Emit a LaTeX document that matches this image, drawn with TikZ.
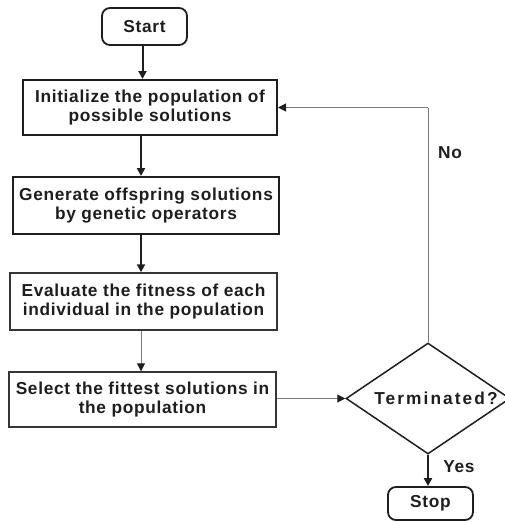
\documentclass[tikz,border=0pt]{standalone}
\usepackage{fontspec}
\setmainfont{Liberation Sans}
\newfontfamily\diafont{Liberation Sans}[LetterSpace=4]
\newfontfamily\diafontwide{Liberation Sans}[LetterSpace=12]
\usetikzlibrary{shapes.geometric,arrows.meta}
\definecolor{ink}{HTML}{1E1E1E}
\definecolor{thin}{HTML}{7A7A7A}
\begin{document}
\begin{tikzpicture}[x=1pt,y=-1pt,
  txt/.style={font=\diafont\bfseries\fontsize{17.3}{18.5}\selectfont, text=ink, align=center, inner sep=0pt},
  boldbox/.style={txt, draw=ink, line width=2pt},
  thinbox/.style={txt, draw=ink!90, line width=1.4pt},
  termbox/.style={txt, draw=ink, line width=1.8pt, rounded corners=8pt},
  thickarrow/.style={draw=ink, line width=2pt, -{Triangle[length=8pt,width=8pt]}},
  thinarrow/.style={draw=thin, line width=1pt, -{Triangle[length=8pt,width=8pt,color=ink]}},
  thinline/.style={draw=thin, line width=1pt}]
\useasboundingbox (0,0) rectangle (504,522);
\fill[white] (0,0) rectangle (504,522);
\coordinate (spine) at (141,0);
\node[termbox, minimum width=85pt, minimum height=37pt] (start) at (144.5,26.5) {Start};
\node[boldbox, minimum width=254pt, minimum height=55pt] (init) at (150,107.5) {Initialize the population of\\possible solutions};
\node[boldbox, minimum width=266pt, minimum height=57pt] (gen) at (146,205.5) {Generate offspring solutions\\by genetic operators};
\node[thinbox, minimum width=267pt, minimum height=57pt] (eval) at (143.5,301.5) {Evaluate the fitness of each\\individual in the population};
\node[thinbox, minimum width=267pt, minimum height=55pt] (sel) at (142.5,399.5) {Select the fittest solutions in\\the population};
\node[draw=ink, diamond, line width=1.5pt, minimum width=164pt, minimum height=111pt, inner sep=0pt] (term) at (428,398.5) {};
\node[txt, font=\diafontwide\bfseries\fontsize{17.3}{18.5}\selectfont] (termtxt) at (436,398.5) {Terminated?};
\node[termbox, minimum width=85pt, minimum height=33pt] (stop) at (430.5,503.5) {Stop};
\node[txt] (yes) at (459,467) {Yes};
\node[txt] (no) at (450,153) {No};
\coordinate (corner) at (term.north |- init.east);
% connectors
\draw[thickarrow] (start.south -| spine) ++(1.5,0) -- (init.north -| 142.5,0);
\draw[thickarrow] (init.south -| spine) -- (gen.north -| spine);
\draw[thickarrow] (gen.south -| spine) -- (eval.north -| spine);
\draw[thinarrow] (eval.south -| spine) -- (sel.north -| spine);
\draw[thinarrow] (sel.east |- term.west) -- (term.west);
\draw[thinline] (term.north) -- (corner);
\draw[thinarrow] (corner) -- (init.east);
\draw[thickarrow] (term.south) -- (stop.north -| term.south);
\end{tikzpicture}
\end{document}
